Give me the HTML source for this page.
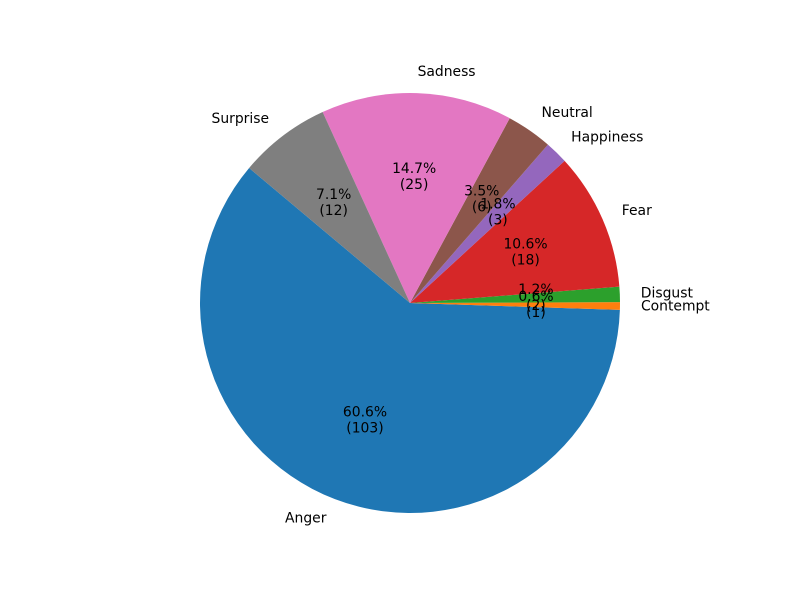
<!DOCTYPE html>
<html><head><meta charset="utf-8"><style>
html,body{margin:0;padding:0;background:#fff;}
svg text{font-family:"DejaVu Sans","Liberation Sans",sans-serif;font-size:13.9px;fill:#000;}
</style></head><body>
<svg id="chart" width="800" height="600" viewBox="0 0 800 600" xmlns="http://www.w3.org/2000/svg">
<rect width="800" height="600" fill="#fff"/>
<g id="wedges"></g><g id="labels"></g>
</svg>
<script>
const categories=["Anger","Contempt","Disgust","Fear","Happiness","Neutral","Sadness","Surprise"];
const counts=[103,1,2,18,3,6,25,12];
const colors=["#1f77b4","#ff7f0e","#2ca02c","#d62728","#9467bd","#8c564b","#e377c2","#7f7f7f"];
const cx=410,cy=303,R=210,start=140;
const NS="http://www.w3.org/2000/svg";
const total=counts.reduce((a,b)=>a+b,0);
const wg=document.getElementById('wedges'),lg=document.getElementById('labels');
function pt(a,r){const t=a*Math.PI/180;return [cx+r*Math.cos(t),cy-r*Math.sin(t)];}
let a0=start;
counts.forEach((v,i)=>{
  const span=v/total*360,a1=a0+span;
  const p0=pt(a0,R),p1=pt(a1,R);
  const p=document.createElementNS(NS,'path');
  p.setAttribute('d',`M${cx},${cy}L${p0[0]},${p0[1]}A${R},${R} 0 ${span>180?1:0} 0 ${p1[0]},${p1[1]}Z`);
  p.setAttribute('fill',colors[i]);
  
  
  wg.appendChild(p);
  const mid=(a0+a1)/2;
  const lp=pt(mid,R*1.1);
  const t=document.createElementNS(NS,'text');
  t.setAttribute('x',lp[0]+(lp[0]>=cx?0:-1));t.setAttribute('y',lp[1]+4);
  t.setAttribute('text-anchor',lp[0]>=cx?'start':'end');
  t.textContent=categories[i];
  
  
  lg.appendChild(t);
  const ap=pt(mid,R*0.6);
  const pct=(v/total*100).toFixed(1)+'%';
  [[pct,-4],['('+v+')',12]].forEach(([s,dy])=>{
    const q=document.createElementNS(NS,'text');
    q.setAttribute('x',ap[0]);q.setAttribute('y',ap[1]+dy);
    q.setAttribute('text-anchor','middle');
    q.textContent=s;
    
    
    lg.appendChild(q);
  });
  a0=a1;
});
</script>
</body></html>
